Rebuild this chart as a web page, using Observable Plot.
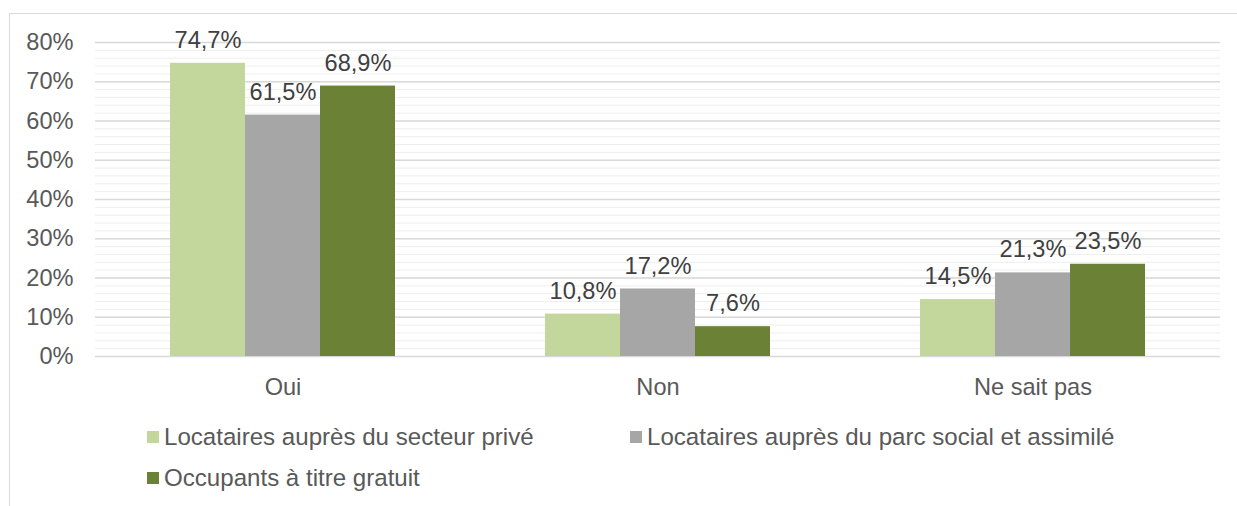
<!DOCTYPE html>
<html><head><meta charset="utf-8">
<script src="https://cdn.jsdelivr.net/npm/d3@7"></script>
<script src="https://cdn.jsdelivr.net/npm/@observablehq/plot@0.6"></script>
<style>
body{margin:0;background:#fff;font-family:"Liberation Sans",Arial,sans-serif;}
#wrap{position:relative;width:1237px;height:506px;overflow:hidden;}
#frame{position:absolute;left:9px;top:13px;width:1300px;height:600px;border:1px solid #d9d9d9;box-sizing:border-box;}
#chart{position:absolute;left:0;top:0;}
.leg{position:absolute;font-size:24.1px;color:#595959;display:flex;align-items:center;white-space:nowrap;line-height:1;}
.leg i{display:inline-block;width:12px;height:12px;margin-right:5px;}
</style></head>
<body><div id="wrap"><div id="frame"></div><div id="chart"></div></div>
<script>
const categories = ["Oui", "Non", "Ne sait pas"];
const seriesNames = ["Locataires auprès du secteur privé", "Locataires auprès du parc social et assimilé", "Occupants à titre gratuit"];
const colors = ["#c3d69b", "#a6a6a6", "#6b8136"];
const prive = [74.7, 10.8, 14.5];
const social = [61.5, 17.2, 21.3];
const gratuit = [68.9, 7.6, 23.5];
const majorTicks = [0, 10, 20, 30, 40, 50, 60, 70, 80];
const minorTicks = d3.range(0, 81, 2);

const seriesValues = [prive, social, gratuit];
const data = [];
categories.forEach((c, i) => seriesNames.forEach((s, j) => data.push({cat: c, series: s, value: seriesValues[j][i]})));

const fmt = v => v.toFixed(1).replace(".", ",") + "%";

const chart = Plot.plot({
  width: 1237, height: 420,
  marginTop: 42, marginBottom: 64, marginLeft: 95, marginRight: 17,
  style: {fontSize: "23.6px", fontFamily: "'Liberation Sans', Arial, sans-serif", color: "#595959", background: "transparent"},
  fx: {domain: categories, padding: 0, label: null},
  x: {domain: seriesNames, paddingInner: 0, paddingOuter: 1, axis: null},
  y: {domain: [0, 80], label: null},
  color: {domain: seriesNames, range: colors},
  marks: [
    Plot.ruleY(minorTicks, {stroke: "#eeeeee", strokeWidth: 1}),
    Plot.ruleY(majorTicks, {stroke: "#d9d9d9", strokeWidth: 1.3}),
    Plot.axisY({ticks: majorTicks, tickFormat: d => d + "%", tickSize: 0, tickPadding: 22, label: null, fill: "#595959"}),
    Plot.axisFx({anchor: "bottom", tickSize: 0, tickPadding: 22, label: null, fill: "#595959"}),
    Plot.barY(data, {fx: "cat", x: "series", y: "value", fill: "series"}),
    Plot.text(data, {fx: "cat", x: "series", y: "value", text: d => fmt(d.value), dy: -23, fill: "#404040"})
  ]
});
document.getElementById("chart").appendChild(chart);

const legPos = [[147, 437], [630, 437], [147, 478]];
seriesNames.forEach((s, i) => {
  const d = document.createElement("div");
  d.className = "leg";
  d.style.left = legPos[i][0] + "px";
  d.style.top = (legPos[i][1] - 13) + "px";
  d.style.height = "26px";
  d.innerHTML = `<i style="background:${colors[i]}"></i><span>${s}</span>`;
  document.getElementById("wrap").appendChild(d);
});
</script></body></html>
